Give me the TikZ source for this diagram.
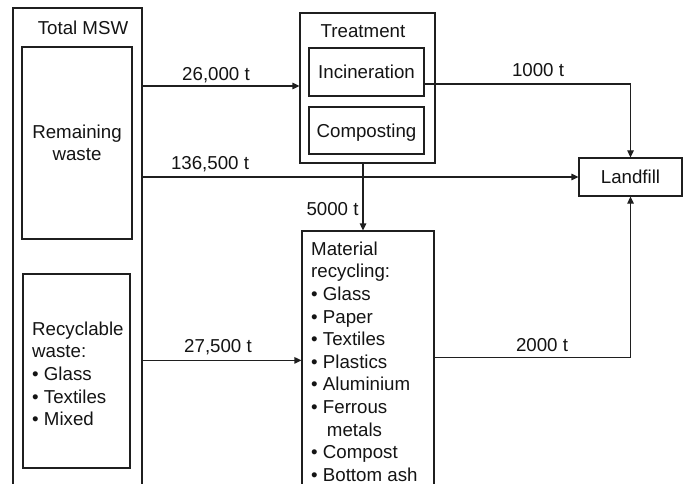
\documentclass[tikz,border=0pt]{standalone}
\usepackage{fontspec}
\setmainfont{Liberation Sans}
\usetikzlibrary{arrows.meta,calc}
\definecolor{lc}{gray}{0.12}
\definecolor{tc}{gray}{0.08}
\begin{document}
\begin{tikzpicture}[x=1pt,y=-1pt,
  box/.style={draw=lc, line width=1.25pt, inner sep=0pt},
  txt/.style={inner sep=0pt, text=tc, font=\fontsize{18.7}{22.6}\selectfont},
  lbl/.style={txt, anchor=base},
  capc/.style={text height=13.4pt, text depth=0pt},
  flow/.style={draw=lc, line width=1.25pt, -{Triangle[length=7pt,width=6.5pt]}}]
\useasboundingbox (0,0) rectangle (688,484);
\clip (0,0) rectangle (688,484);
\fill[white] (0,0) rectangle (688,484);
% left column
\node[box, minimum width=129pt, minimum height=512pt] (msw) at (77.5,264) {};
\node[lbl] (mswt) at (83,35) {Total MSW};
\node[box, txt, align=center, minimum width=110pt, minimum height=192pt] (rem) at (77,143) {Remaining\\waste};
\node[box, minimum width=107pt, minimum height=194pt] (rec) at (76.5,371) {};
\node[txt, anchor=north west, align=left] (rect) at (32,321.5) {Recyclable\\waste:\\• Glass\\• Textiles\\• Mixed};
% treatment
\node[box, minimum width=135pt, minimum height=150pt] (treat) at (367.5,88) {};
\node[lbl] (treatt) at (363,38) {Treatment};
\node[box, txt, capc, minimum width=115pt, minimum height=48pt] (inc) at (366.5,72) {Incineration};
\node[box, txt, capc, minimum width=115pt, minimum height=47pt] (comp) at (366.5,130.5) {Composting};
% landfill
\node[box, txt, capc, minimum width=103pt, minimum height=38pt] (land) at (630.5,177) {Landfill};
% material recycling
\node[box, minimum width=132pt, minimum height=289pt] (mat) at (368,375.5) {};
\node[txt, anchor=north west, align=left] (matt) at (311,241.6) {Material\\recycling:\\• Glass\\• Paper\\• Textiles\\• Plastics\\• Aluminium\\• Ferrous\\\phantom{• }\kern4pt metals\\• Compost\\• Bottom ash};
% connectors
\coordinate (a26) at ($(treat.west)+(0,-2)$);
\draw[flow] (a26 -| msw.east) -- (a26);
\draw[flow] (land.west -| msw.east) -- (land.west);
\coordinate (a275) at ($(mat.north west)+(0,130)$);
\draw[flow] (a275 -| msw.east) -- (a275);
\coordinate (incout) at ($(inc.east)+(0,12)$);
\draw[flow] (incout) -| (land.north);
\coordinate (trout) at ($(treat.south)+(-4.5,0)$);
\draw[flow] (trout) -- (trout |- mat.north);
\coordinate (matout) at ($(mat.north east)+(0,127)$);
\draw[flow] (matout) -| (land.south);
% labels
\node[lbl] (l26) at (216,81) {26,000 t};
\node[lbl] (l136) at (210,169) {136,500 t};
\node[lbl] (l275) at (218,352) {27,500 t};
\node[lbl] (l1000) at (538,77) {1000 t};
\node[lbl] (l2000) at (542,351) {2000 t};
\node[lbl] (l5000) at (332.5,215) {5000 t};
\end{tikzpicture}
\end{document}
